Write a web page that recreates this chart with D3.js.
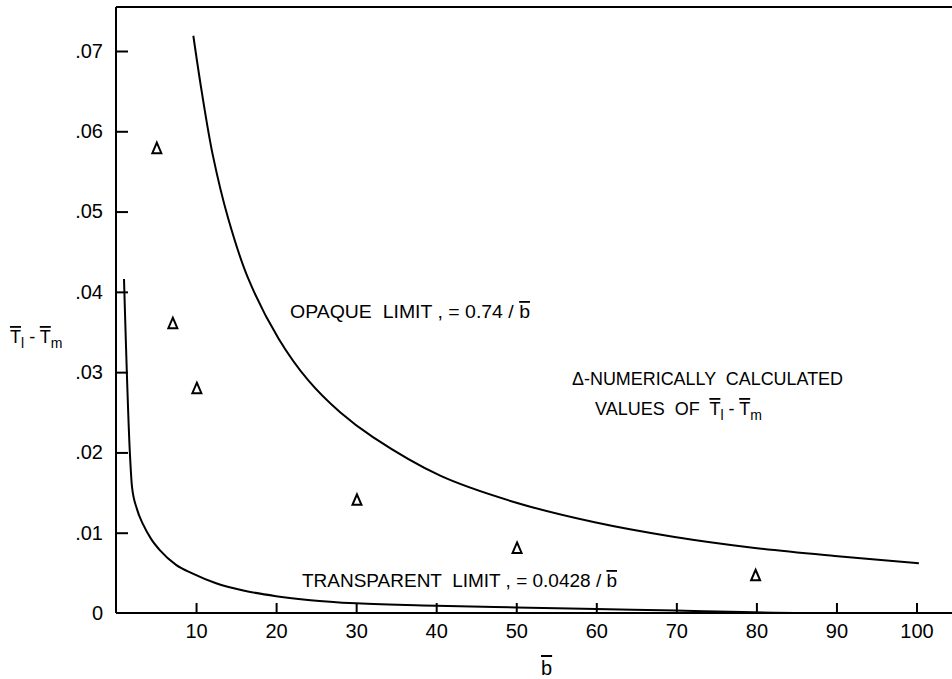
<!DOCTYPE html>
<html>
<head>
<meta charset="utf-8" />
<title>T1 - Tm vs b</title>
<script src="https://cdn.jsdelivr.net/npm/d3@7"></script>
<style>
  html, body { margin: 0; padding: 0; background: #fff; }
  svg { display: block; }
  text { font-family: "Liberation Sans", Arial, sans-serif; fill: #000; }
  .ov { text-decoration: overline; }
</style>
</head>
<body>
<svg id="chart" width="952" height="679"></svg>
<script>
const opaqueB = [9.66, 10.7, 12.1, 14.0, 16.5, 20.3, 24, 28, 32.1, 40.5, 49.8, 59.8, 69.6, 79.8, 89.8, 100.3];
const opaqueV = [0.0719, 0.0650, 0.0570, 0.0492, 0.0417, 0.0342, 0.0290, 0.0250, 0.0219, 0.0171, 0.0138, 0.0113, 0.0095, 0.0081, 0.0071, 0.0062];

const transpB = [1.0, 1.75, 2.0, 2.6, 3.4, 4.4, 5.5, 7.5, 9.6, 12.5, 15.9, 20, 24.3, 30, 40, 50, 60, 70, 86, 104];
const transpV = [0.0416, 0.0196, 0.0157, 0.0130, 0.0110, 0.0092, 0.0078, 0.0060, 0.0049, 0.0037, 0.0028, 0.0021, 0.0016, 0.0012, 0.0009, 0.0007, 0.0005, 0.0003, 0.0, 0.0];

const pointB = [5.1, 7.1, 10.1, 30.1, 50.1, 79.9];
const pointV = [0.0579, 0.0361, 0.0280, 0.0141, 0.0081, 0.0047];

const xTicks = [10, 20, 30, 40, 50, 60, 70, 80, 90, 100];
const yTicks = [0, 0.01, 0.02, 0.03, 0.04, 0.05, 0.06, 0.07];

const svg = d3.select('#chart');

let x = d3.scaleLinear().domain([0, 100]).range([116, 916.5]);
let y = d3.scaleLinear().domain([0, 0.07]).range([613, 51]);

// frame: left axis, bottom axis, top line
svg.append('line').attr('x1', 116).attr('x2', 952).attr('y1', 7).attr('y2', 7)
   .attr('stroke', '#000').attr('stroke-width', 2);

let yAxis = svg.append('g')
   .attr('transform', 'translate(116,0)')
   .call(d3.axisLeft(y).tickValues(yTicks).tickSize(-12).tickPadding(13)
          .tickFormat(d => d === 0 ? '0' : d3.format('.2f')(d).replace(/^0/, '')));
yAxis.select('.domain').attr('d', 'M0,7V613');
yAxis.selectAll('.tick').filter(d => d === 0).select('line').remove();

let xAxis = svg.append('g')
   .attr('transform', 'translate(0,613)')
   .call(d3.axisBottom(x).tickValues(xTicks).tickSize(-10).tickPadding(11));
xAxis.select('.domain').attr('d', 'M116,0H952');

svg.selectAll('.domain').attr('stroke', '#000').attr('stroke-width', 2);
svg.selectAll('.tick line').attr('stroke', '#000').attr('stroke-width', 2);
svg.selectAll('.tick text').attr('font-size', 20).attr('font-family', '"Liberation Sans", Arial, sans-serif')
   .attr('fill', '#000');

// curves
let smooth = d3.line().x(d => x(d[0])).y(d => y(d[1])).curve(d3.curveCatmullRom.alpha(0.5));
let line = d3.line().x(d => x(d[0])).y(d => y(d[1])).curve(d3.curveMonotoneX);

svg.append('path')
   .datum(d3.zip(opaqueB, opaqueV))
   .attr('d', smooth)
   .attr('fill', 'none').attr('stroke', '#000').attr('stroke-width', 2);

svg.append('path')
   .datum(d3.zip(transpB, transpV))
   .attr('d', line)
   .attr('fill', 'none').attr('stroke', '#000').attr('stroke-width', 2);

// numerically calculated values (open triangles)
svg.append('g')
   .selectAll('path')
   .data(d3.zip(pointB, pointV))
   .enter()
   .append('path')
   .attr('transform', d => 'translate(' + x(d[0]) + ',' + y(d[1]) + ')')
   .attr('d', 'M0,-5.5L4.5,5L-4.5,5Z')
   .attr('fill', 'none').attr('stroke', '#000').attr('stroke-width', 2)
   .attr('stroke-linejoin', 'miter');

// annotations
function label(xp, yp, size, len, parts) {
  let t = svg.append('text').attr('x', xp).attr('y', yp).attr('font-size', size);
  if (len) t.attr('textLength', len).attr('lengthAdjust', 'spacingAndGlyphs');
  parts.forEach(p => {
    let s = t.append('tspan').text(p.t);
    if (p.ov) s.attr('class', 'ov');
    if (p.dy) s.attr('dy', p.dy);
    if (p.fs) s.attr('font-size', p.fs);
  });
  t.style('white-space', 'pre');
  return t;
}

label(290, 318, 18, 240, [{t: 'OPAQUE  LIMIT , = 0.74 / '}, {t: 'b', ov: true}]);
label(572, 385, 18, 271, [{t: '\u0394-NUMERICALLY  CALCULATED'}]);
label(595, 415, 18, null, [
  {t: 'VALUES  OF  '}, {t: 'T', ov: true}, {t: 'l', dy: 5, fs: 14}, {t: ' - ', dy: -5},
  {t: 'T', ov: true}, {t: 'm', dy: 5, fs: 14}
]);
label(302, 587, 18, 315, [{t: 'TRANSPARENT  LIMIT , = 0.0428 / '}, {t: 'b', ov: true}]);

// axis titles
label(10, 343, 18, null, [
  {t: 'T', ov: true}, {t: 'l', dy: 5, fs: 14}, {t: ' - ', dy: -5},
  {t: 'T', ov: true}, {t: 'm', dy: 5, fs: 14}
]);
label(541, 675, 20, null, [{t: 'b', ov: true}]);
</script>
</body>
</html>
